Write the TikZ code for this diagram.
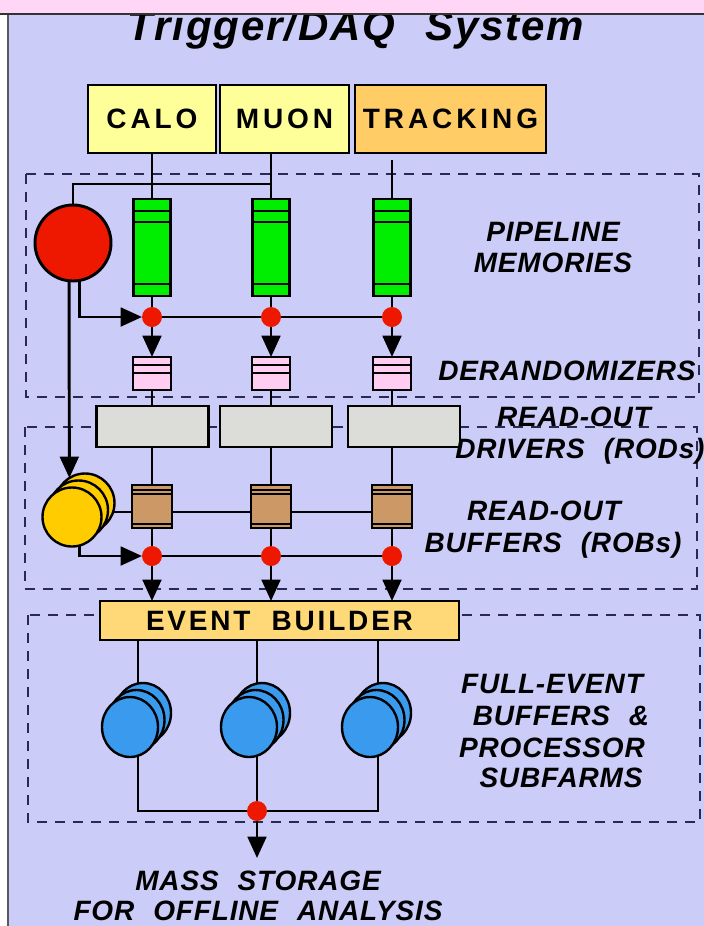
\documentclass[tikz,border=0pt]{standalone}
\usepackage{fontspec}
\setmainfont{Liberation Sans}
\usetikzlibrary{arrows.meta,shapes.geometric}
\newfontfamily\ttlfam[LetterSpace=4.5,WordSpace=2.2]{Liberation Sans}
\newfontfamily\boxfam[LetterSpace=14]{Liberation Sans}
\newfontfamily\ebfam[LetterSpace=10,WordSpace=2]{Liberation Sans}
\newfontfamily\lblfam[LetterSpace=3,WordSpace=2.2]{Liberation Sans}
\newcommand\ttlf{\ttlfam\bfseries\itshape\fontsize{31.5pt}{36pt}\selectfont}
\newcommand\boxf{\boxfam\bfseries\fontsize{21pt}{24pt}\selectfont}
\newcommand\ebf{\ebfam\bfseries\fontsize{21pt}{24pt}\selectfont}
\newcommand\lblf{\lblfam\bfseries\itshape\fontsize{21pt}{24pt}\selectfont}
\definecolor{bgc}{HTML}{CCCCF8}
\definecolor{pinkbar}{HTML}{FFD6F6}
\definecolor{calofill}{HTML}{FFFF99}
\definecolor{trackfill}{HTML}{FFCC66}
\definecolor{pipegreen}{HTML}{00EE00}
\definecolor{derpink}{HTML}{FFCCF2}
\definecolor{rodgray}{HTML}{DCDCD8}
\definecolor{robbrown}{HTML}{CC9966}
\definecolor{dotred}{HTML}{EE1800}
\definecolor{diskyellow}{HTML}{FFCC00}
\definecolor{diskblue}{HTML}{3A9BEE}
\definecolor{ebfill}{HTML}{FFD878}
\definecolor{dashc}{HTML}{2A2A50}
\pgfdeclarelayer{bg}
\pgfdeclarelayer{lines}
\pgfdeclarelayer{top}
\pgfsetlayers{bg,lines,main,top}
\tikzset{
  conn/.style={line width=2.2pt, draw=black},
  arr/.style={conn, -{Triangle[length=16pt,width=14pt]}},
  boxc/.style={draw=black, line width=2.2pt, inner sep=0pt, outer sep=0pt},
  detbox/.style={boxc, font=\boxf, minimum height=51pt},
  pipe/.style={boxc, fill=pipegreen, minimum width=27.75pt, minimum height=72.75pt,
    path picture={
      \draw[line width=1.5pt] ([yshift=-9pt]path picture bounding box.north west) -- ([yshift=-9pt]path picture bounding box.north east);
      \draw[line width=1.5pt] ([yshift=-17.25pt]path picture bounding box.north west) -- ([yshift=-17.25pt]path picture bounding box.north east);
      \draw[line width=1.5pt] ([yshift=9pt]path picture bounding box.south west) -- ([yshift=9pt]path picture bounding box.south east);}},
  derand/.style={boxc, fill=derpink, minimum width=28.5pt, minimum height=24.75pt,
    path picture={
      \draw[line width=1.5pt] ([yshift=-6pt]path picture bounding box.north west) -- ([yshift=-6pt]path picture bounding box.north east);
      \draw[line width=1.5pt] ([yshift=-12pt]path picture bounding box.north west) -- ([yshift=-12pt]path picture bounding box.north east);}},
  rod/.style={boxc, fill=rodgray, minimum width=84pt, minimum height=30.75pt},
  rob/.style={boxc, fill=robbrown, minimum width=30pt, minimum height=32.25pt,
    path picture={
      \draw[line width=1.2pt] ([yshift=-3.75pt]path picture bounding box.north west) -- ([yshift=-3.75pt]path picture bounding box.north east);
      \draw[line width=1.2pt] ([yshift=-6.75pt]path picture bounding box.north west) -- ([yshift=-6.75pt]path picture bounding box.north east);
      \draw[line width=1.2pt] ([yshift=3pt]path picture bounding box.south west) -- ([yshift=3pt]path picture bounding box.south east);}},
  reddot/.style={circle, fill=dotred, minimum size=15pt, inner sep=0pt, outer sep=0pt},
  region/.style={draw=dashc, line width=1.1pt, dash pattern=on 7.5pt off 6pt},
  ydisk/.style={circle, draw=black, line width=1.8pt, fill=diskyellow, minimum size=44.25pt, inner sep=0pt, outer sep=0pt},
  bdisk/.style={ellipse, draw=black, line width=1.8pt, fill=diskblue, minimum width=42pt, minimum height=45pt, inner sep=0pt, outer sep=0pt},
  lbl/.style={font=\lblf, text height=15pt, text depth=0pt, inner sep=0pt},
}
\begin{document}
\begin{tikzpicture}[x=0.75pt,y=-0.75pt]
\useasboundingbox (0,0) rectangle (704,926);
\begin{pgfonlayer}{bg}
  \fill[white] (0,0) rectangle (704,926);
  \fill[bgc] (8,14) rectangle (704,926);
  \draw[line width=1.2pt, draw=black!65] (8,14) -- (8,926);
  \draw[region] (26,174) rectangle (699,397);
  \draw[region] (25,427) rectangle (697,589);
  \draw[region] (28,615) rectangle (700,822);
\end{pgfonlayer}
\begin{pgfonlayer}{top}
  \fill[pinkbar] (0,0) rectangle (704,13);
  \draw[line width=1.2pt, draw=black!80] (0,14) -- (704,14);
\end{pgfonlayer}

% title (its top is hidden under the pink bar)
\node[font=\ttlf, inner sep=0pt, text height=22.55pt, text depth=0pt] (title) at (356,25) {Trigger/DAQ System};

% detectors
\node[detbox, fill=calofill, minimum width=96pt] (calo) at (152,119) {CALO};
\node[detbox, fill=calofill, minimum width=96.75pt] (muon) at (284.5,119) {MUON};
\node[detbox, fill=trackfill, minimum width=143.25pt] (track) at (450.5,119) {TRACKING};

% pipelines
\node[pipe] (p1) at (152,247.5) {};
\node[pipe] (p2) at (271,247.5) {};
\node[pipe] (p3) at (392,247.5) {};
\node[reddot] (d1) at (152,317) {};
\node[reddot] (d2) at (271,317) {};
\node[reddot] (d3) at (392,317) {};
\node[derand] (r1) at (152,373.5) {};
\node[derand] (r2) at (271,373.5) {};
\node[derand] (r3) at (392,373.5) {};
\node[rod] (rod1) at (152.5,426.5) {};
\node[rod] (rod2) at (276,426.5) {};
\node[rod] (rod3) at (404,426.5) {};
\node[rob] (b1) at (152,506.5) {};
\node[rob] (b2) at (271,506.5) {};
\node[rob] (b3) at (392,506.5) {};
\node[reddot] (e1) at (152,556) {};
\node[reddot] (e2) at (271,556) {};
\node[reddot] (e3) at (392,556) {};
\node[boxc, fill=ebfill, minimum width=269.25pt, minimum height=29.25pt, font=\ebf] (eb) at (279.5,620.5) {EVENT BUILDER};

% trigger
\node[circle, draw=black, line width=2.2pt, fill=dotred, minimum size=57pt, inner sep=0pt, outer sep=0pt] (trig) at (73,243) {};
\node[ydisk] (y3) at (85,503) {};
\node[ydisk] (y2) at (78.5,510) {};
\node[ydisk] (y1) at (72,517) {};

% farms
\foreach \i/\dx in {1/0,2/119,3/240}{
  \node[bdisk] (f\i c) at (143+\dx,713) {};
  \node[bdisk] (f\i b) at (136.5+\dx,720) {};
  \node[bdisk] (f\i a) at (130+\dx,727) {};
}
\node[reddot] (fd) at (257,811) {};

% coordinates
\coordinate (trk) at (392,160);
\coordinate (tj) at (271,184);
\coordinate (robl) at (72,512);
\coordinate (fl) at (138,811);
\coordinate (fr) at (378,811);
\coordinate (ms) at (257,858);

\begin{pgfonlayer}{lines}
  \draw[conn] (calo.south) -- (p1.north);
  \draw[conn] (muon.south -| p2.north) -- (p2.north);
  \draw[conn] (trk) -- (p3.north);
  \draw[conn] (trig.north) |- (tj);
  \foreach \i in {1,2,3}{
    \draw[conn] (p\i.south) -- (d\i.center);
    \draw[arr] (d\i.center) -- (r\i.north);
    \draw[conn] (r\i.south) -- (r\i.south |- rod1.north);
    \draw[conn] (r\i.south |- rod1.south) -- (b\i.north);
    \draw[conn] (b\i.south) -- (e\i.center);
    \draw[arr] (e\i.center) -- (e\i.center |- eb.north);
  }
  \draw[arr] (trig.280.6) |- (d1.west);
  \draw[conn] (d1.center) -- (d3.center);
  \draw[arr] (trig.264) -- (y3.122.8);
  \draw[conn] (robl) -- (robl -| b3.west);
  \draw[arr] (y1.285.7) |- (e1.west);
  \draw[conn] (e1.center) -- (e3.center);
  \draw[conn] (eb.south -| fl) -- (fl) -- (fr) -- (eb.south -| fr);
  \draw[conn] (eb.south -| fd) -- (fd.center);
  \draw[arr] (fd.center) -- (ms);
\end{pgfonlayer}

% labels
\node[lbl] (l1) at (553,231) {PIPELINE};
\node[lbl] (l2) at (553,262) {MEMORIES};
\node[lbl] (l3) at (567,370) {DERANDOMIZERS};
\node[lbl] (l4) at (574,416) {READ-OUT};
\node[lbl] (l5) at (580,448) {DRIVERS (RODs)};
\node[lbl] (l6) at (544,510) {READ-OUT};
\node[lbl] (l7) at (553,542) {BUFFERS (ROBs)};
\node[lbl] (l8) at (552,683) {FULL-EVENT};
\node[lbl] (l9) at (561,715) {BUFFERS \&};
\node[lbl] (l10) at (552,747) {PROCESSOR};
\node[lbl] (l11) at (561,777) {SUBFARMS};
\node[lbl] (l12) at (258,880) {MASS STORAGE};
\node[lbl] (l13) at (258,910) {FOR OFFLINE ANALYSIS};
\end{tikzpicture}
\end{document}
